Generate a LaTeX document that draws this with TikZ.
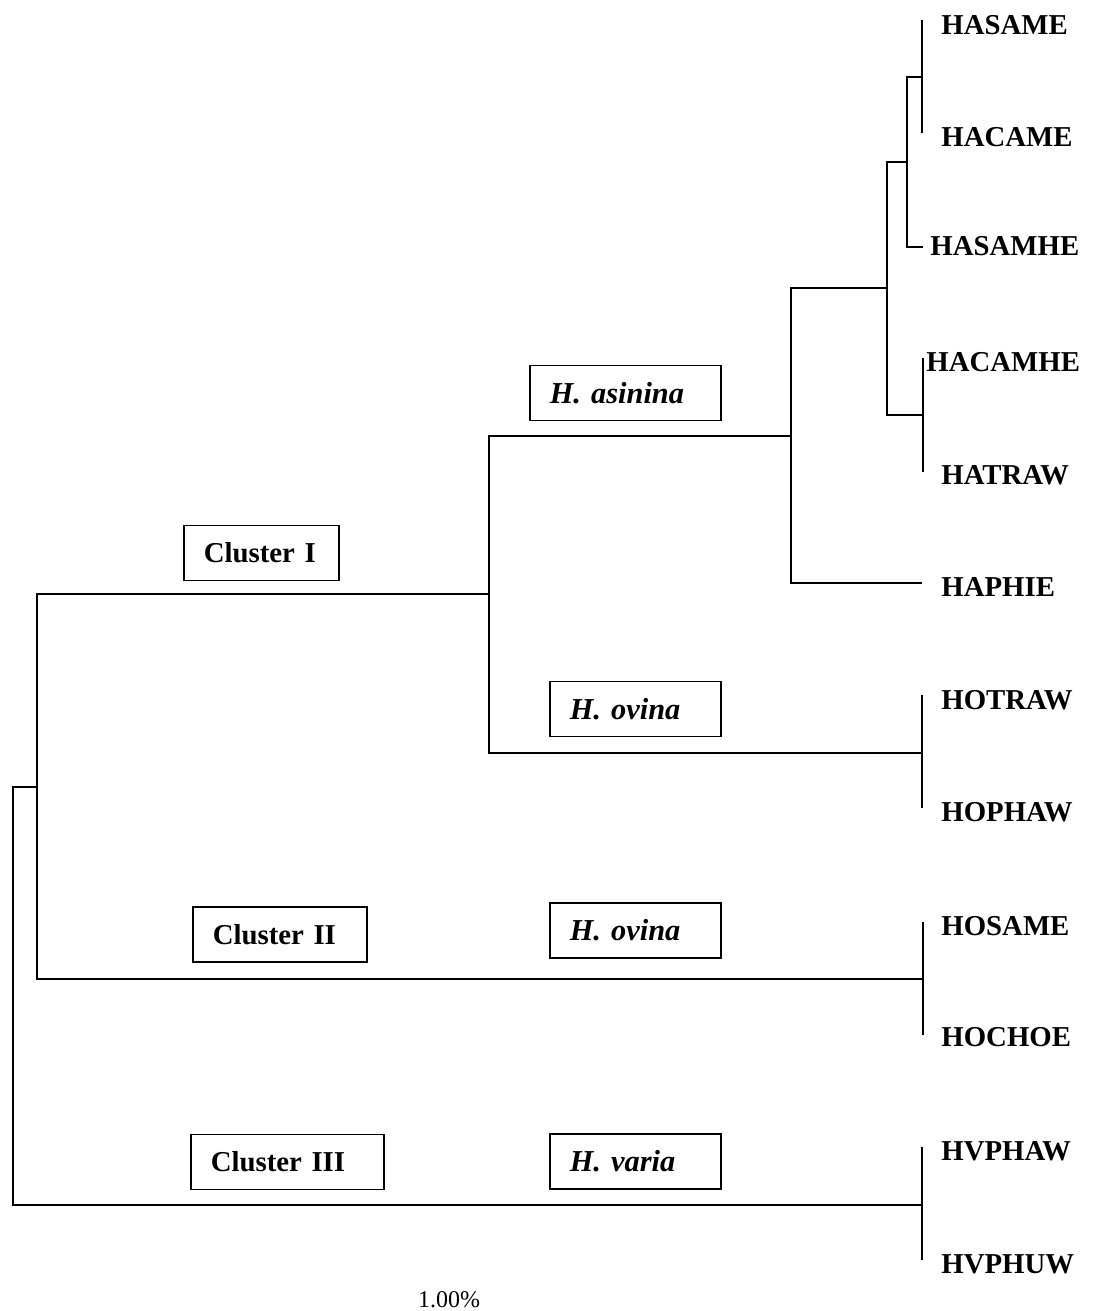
\documentclass[tikz,border=0pt]{standalone}
\usepackage{fontspec}
\setmainfont{Liberation Serif}
\usetikzlibrary{positioning}

\begin{document}
\begin{tikzpicture}[
		x=0.5pt, y=-0.5pt,
		branch/.style = {line width=1.2pt},
		leaf/.style = {
			anchor=west,
			inner sep=0pt,
			font=\bfseries\fontsize{14.4}{17}\selectfont
			},
		tag/.style = {
			draw, rectangle,
			line width=0.75pt,
			anchor=west,
			align=left,
			inner xsep=10pt,
			inner ysep=0pt,
			minimum height=27.5pt,
			font=\bfseries\fontsize{14.4}{17}\selectfont
			},
		species/.style = {tag, font=\bfseries\itshape\fontsize{15.2}{17}\selectfont}
		]
		\useasboundingbox (0,0) rectangle (1092,1311);
		
		% tips of the leaves
		\coordinate (t1) at (922,20);
		\coordinate (t2) at (922,133);
		\coordinate (t3) at (923,247);
		\coordinate (t4) at (923,358);
		\coordinate (t5) at (923,472);
		\coordinate (t6) at (922,583);
		\coordinate (t7) at (922,695);
		\coordinate (t8) at (922,808);
		\coordinate (t9) at (923,922);
		\coordinate (t10) at (923,1035);
		\coordinate (t11) at (922,1147);
		\coordinate (t12) at (922,1260);
		
		% junctions
		\coordinate (j1) at (922,77);
		\coordinate (j2) at (907,162);
		\coordinate (j3) at (923,415);
		\coordinate (j4) at (887,288);
		\coordinate (j5) at (791,436);
		\coordinate (j6) at (922,753);
		\coordinate (j7) at (489,594);
		\coordinate (j8) at (923,979);
		\coordinate (j9) at (37,787);
		\coordinate (j10) at (922,1205);
		\coordinate (root) at (13,996);
		
		\draw[branch] (t1) -- (t2);
		\draw[branch] (j1) -| (j2) |- (t3);
		\draw[branch] (t4) -- (t5);
		\draw[branch] (j2) -| (j4) |- (j3);
		\draw[branch] (j4) -| (j5) |- (t6);
		\draw[branch] (t7) -- (t8);
		\draw[branch] (j5) -| (j7) |- (j6);
		\draw[branch] (t9) -- (t10);
		\draw[branch] (j7) -| (j9) |- (j8);
		\draw[branch] (t11) -- (t12);
		\draw[branch] (j9) -| (root) |- (j10);
		
		\node[leaf] (hasame) at (941,25) {HASAME};
		\node[leaf] (hacame) at (941,137) {HACAME};
		\node[leaf] (hasamhe) at (930,246) {HASAMHE};
		\node[leaf] (hacamhe) at (926,362) {HACAMHE};
		\node[leaf] (hatraw) at (941,475) {HATRAW};
		\node[leaf] (haphie) at (941,587) {HAPHIE};
		\node[leaf] (hotraw) at (941,700) {HOTRAW};
		\node[leaf] (hophaw) at (941,812) {HOPHAW};
		\node[leaf] (hosame) at (941,926) {HOSAME};
		\node[leaf] (hochoe) at (941,1037) {HOCHOE};
		\node[leaf] (hvphaw) at (941,1151) {HVPHAW};
		\node[leaf] (hvphuw) at (941,1264) {HVPHUW};
		
		\node[species, text width=75.5pt] (asinina) at (529,393) {H. asinina};
		\node[tag, text width=57.5pt] (clusterI) at (183,553) {Cluster I};
		\node[species, text width=65.5pt] (ovinaA) at (549,709) {H. ovina};
		\node[tag, text width=67pt] (clusterII) at (192,934.5) {Cluster II};
		\node[species, text width=65.5pt] (ovinaB) at (549,930.5) {H. ovina};
		\node[tag, text width=76.5pt] (clusterIII) at (190,1162) {Cluster III};
		\node[species, text width=65.5pt] (varia) at (549,1161.5) {H. varia};
		
		\node[font=\fontsize{12}{14}\selectfont] (scale) at (449,1300) {1.00\%};
		
	\end{tikzpicture}
\end{document}
